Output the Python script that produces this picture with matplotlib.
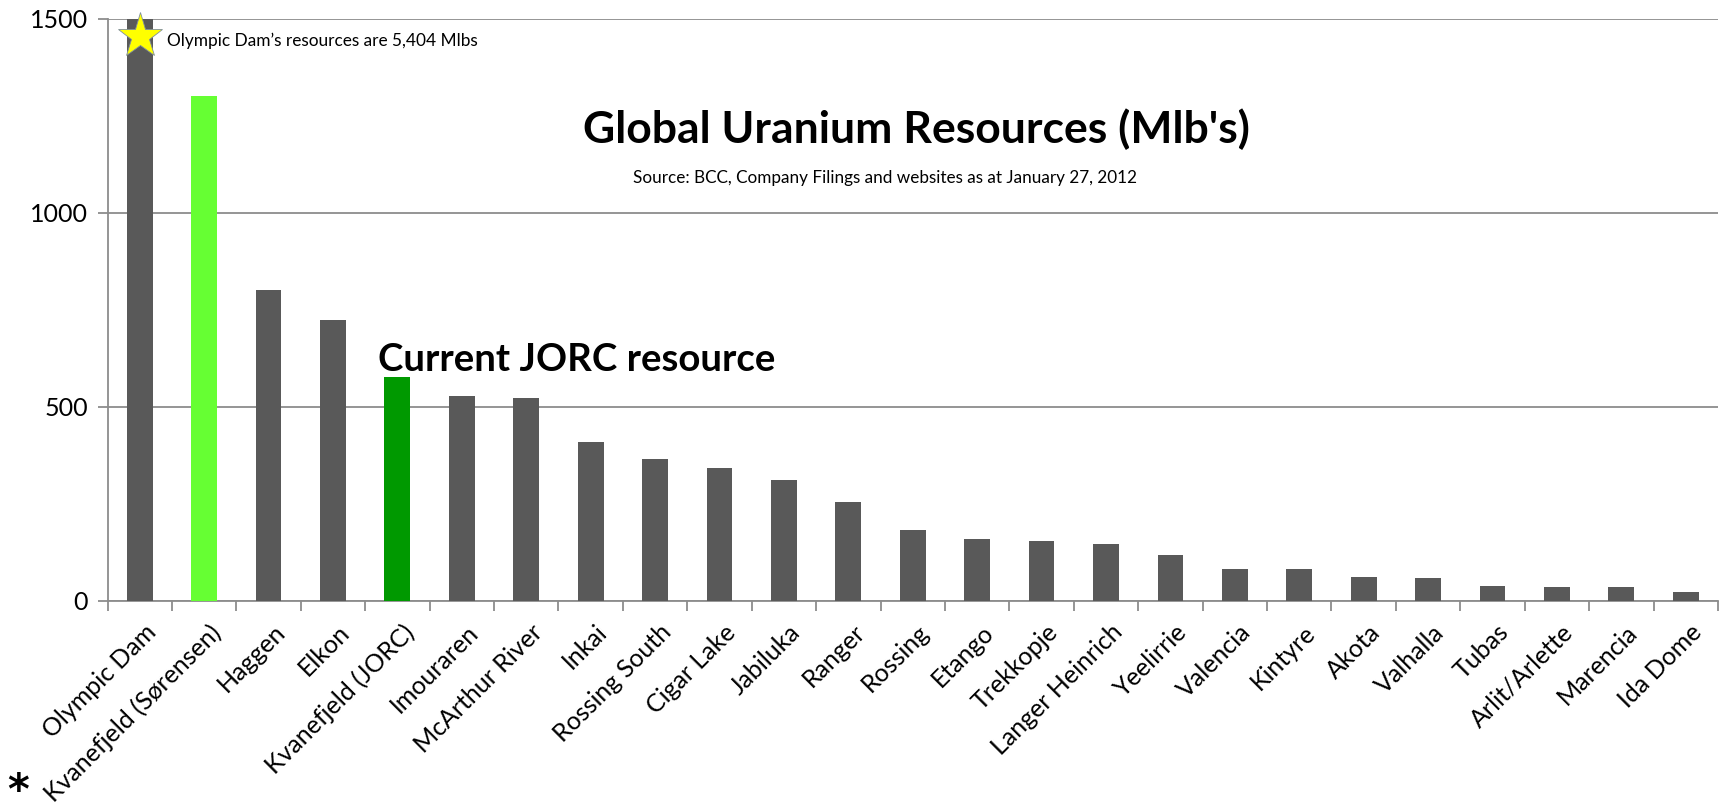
import matplotlib

matplotlib.use("Agg")
import matplotlib.pyplot as plt
import matplotlib.transforms as mtransforms
import numpy as np

plt.rcParams["font.family"] = ["Lato", "DejaVu Sans"]

# Mlb U3O8 resources per deposit
DEPOSITS = [
    "Olympic Dam", "Kvanefjeld (Sørensen)", "Haggen", "Elkon", "Kvanefjeld (JORC)",
    "Imouraren", "McArthur River", "Inkai", "Rossing South", "Cigar Lake",
    "Jabiluka", "Ranger", "Rossing", "Etango", "Trekkopje", "Langer Heinrich",
    "Yeelirrie", "Valencia", "Kintyre", "Akota", "Valhalla", "Tubas",
    "Arlit/Arlette", "Marencia", "Ida Dome",
]
RESOURCES = [
    5404, 1300, 800, 724, 576,
    527, 523, 410, 366, 343,
    312, 255, 182, 159, 154, 147,
    118, 83, 83, 62, 59, 38,
    35, 35, 23,
]
Y_TICKS = [0, 500, 1000, 1500]

GREY = "#595959"
LIGHT_GREEN = "#66FF33"
DARK_GREEN = "#009900"
AXIS_GREY = "#8C8C8C"

colors = [GREY] * len(DEPOSITS)
colors[DEPOSITS.index("Kvanefjeld (Sørensen)")] = LIGHT_GREEN
colors[DEPOSITS.index("Kvanefjeld (JORC)")] = DARK_GREEN

fig = plt.figure(figsize=(17.2, 8.08), dpi=100)
ax = fig.add_axes([0.0625, 0.2562, 0.9363, 0.7208])

x = np.arange(len(DEPOSITS))
ax.bar(x, RESOURCES, width=0.4, color=colors, zorder=3)

ax.set_xlim(-0.5, len(DEPOSITS) - 0.5)
ax.set_ylim(0, 1500)
ax.set_yticks(Y_TICKS)
ax.yaxis.grid(True, color=AXIS_GREY, linewidth=1.3, zorder=0)

ax.set_xticks(x)
ax.set_xticklabels(DEPOSITS, rotation=45, ha="right", va="top",
                   rotation_mode="anchor", fontsize=18)
ax.set_xticks(np.arange(len(DEPOSITS) + 1) - 0.5, minor=True)
ax.tick_params(axis="x", which="major", length=0, pad=14)
ax.tick_params(axis="x", which="minor", length=7, width=1.3, color=AXIS_GREY)
ax.tick_params(axis="y", length=7, width=1.3, color=AXIS_GREY, labelsize=18, pad=7)

# Excel puts the end of each rotated label a bit right of the category centre
shift = mtransforms.ScaledTranslation(0.045, 0, fig.dpi_scale_trans)
for lbl in ax.get_xticklabels():
    lbl.set_transform(lbl.get_transform() + shift)

for side in ("top", "right"):
    ax.spines[side].set_visible(False)
for side in ("left", "bottom"):
    ax.spines[side].set_color(AXIS_GREY)
    ax.spines[side].set_linewidth(1.3)

# Olympic Dam runs far off the scale: mark it with a star
ax.plot([x[0]], [0.97], marker="*", markersize=34, color="#FFFF00",
        markeredgecolor="#7F8F9F", markeredgewidth=0.6,
        transform=ax.get_xaxis_transform(), clip_on=False, zorder=5)
ax.text(0.037, 0.961, "Olympic Dam\u2019s resources are 5,404 Mlbs", transform=ax.transAxes,
        fontsize=12.4, va="center", ha="left")

ax.text(0.502, 0.81, "Global Uranium Resources (Mlb's)", transform=ax.transAxes,
        fontsize=32, fontweight="bold", ha="center", va="center")
ax.text(0.483, 0.726, "Source: BCC, Company Filings and websites as at January 27, 2012",
        transform=ax.transAxes, fontsize=12.3, ha="center", va="center")
ax.text(0.168, 0.414, "Current JORC resource", transform=ax.transAxes,
        fontsize=27.6, fontweight="bold", ha="left", va="center")

# footnote marker next to the Sørensen estimate label (mathtext keeps the box tight)
fig.text(0.0105, 0.022, r"$\mathbf{*}$", fontsize=30, ha="center", va="center")

fig.savefig("out.png", dpi=100)
